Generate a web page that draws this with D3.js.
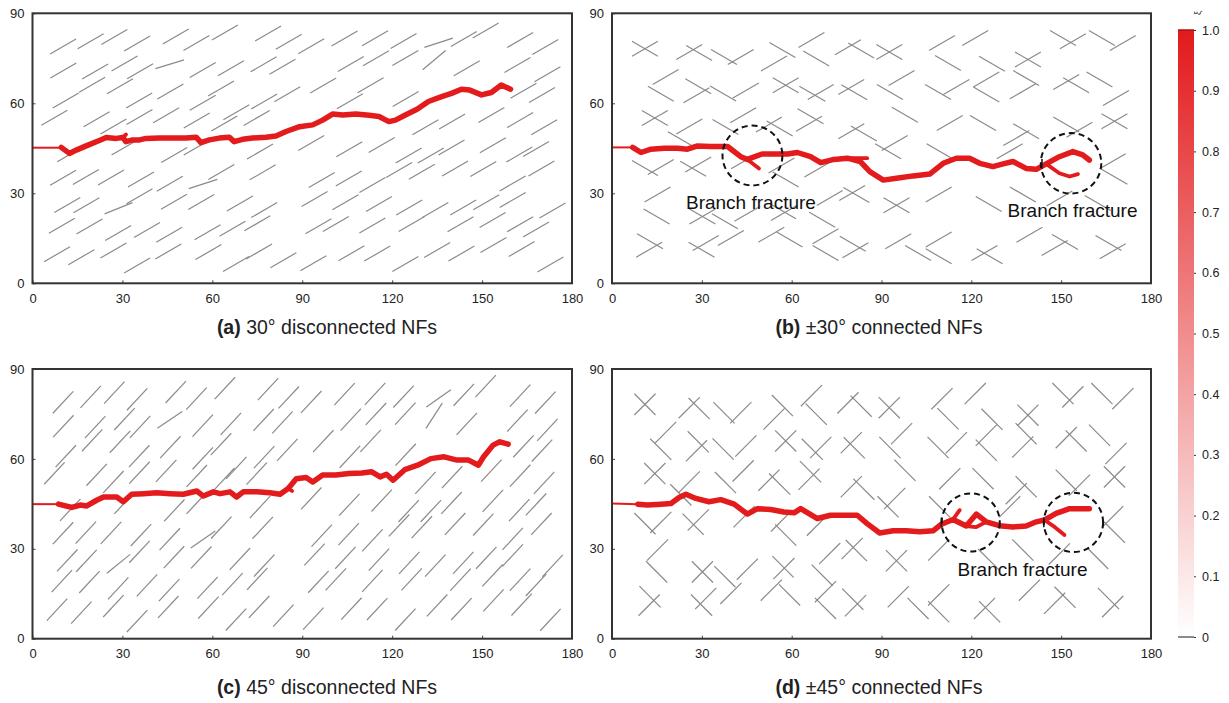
<!DOCTYPE html>
<html><head><meta charset="utf-8">
<script src="https://cdn.jsdelivr.net/npm/d3@7"></script>
<style>body{margin:0;background:#fff}svg{display:block}text{font-family:"Liberation Sans",Arial,sans-serif}</style>
</head><body><svg id="c" width="1229" height="703"></svg>
<script>
// ---------- data ----------
const xTicks=[0,30,60,90,120,150,180];
const yTicks=[0,30,60,90];
const cbTicks=[0,0.1,0.2,0.3,0.4,0.5,0.6,0.7,0.8,0.9,1.0];
const cbTickLabels=["0","0.1","0.2","0.3","0.4","0.5","0.6","0.7","0.8","0.9","1.0"];
const titlesBold=["(a)","(b)","(c)","(d)"];
const titlesRest=[" 30° disconnected NFs"," ±30° connected NFs"," 45° disconnected NFs"," ±45° connected NFs"];
const nfAngles=[30,30,47,45];
const nfLength=10;
// disconnected NF centres [x, y, angle offset]
const nfDisconnected=[
[10.2,78.9],[19.4,80.7],[27.3,82.1],[34.9,79.9],[47.8,82.3],[54.7,80.1],[64.2,83.6],[78.6,83.3],[85.5,80.5],
[10.3,70.9],[20.9,70.6],[30.7,73.3],[35.9,70.7],[45.8,73,-13],[56.8,71.1],[66.2,71.7],[77.1,73],[83.4,72.2],
[11.1,60.9],[19.9,66.2],[29.2,65.7],[35.6,60.9],[46,63.9],[56.8,60.2],[62.9,64.9],[68,57],[77.3,60.6],[85,63],
[7.3,55.2],[21.4,54.7],[27,52.3],[35.7,55.4],[44.6,56],[54.8,54.3],[64,53.3],[74.8,55.1],
[12.6,43],[30.7,45.3],[47.3,42.8],[54.8,45.3],[75.9,43.9],
[10.2,35.2],[17.8,35.4],[26.2,35.3],[36.2,34.6],[45.8,33.2],[56.9,33.1,-12],[63,37.1],[76.8,37],
[11.6,26.1],[18,26],[28.7,25,-8],[35.7,29],[47.2,27.2],[56.3,27.1],[69.2,26.6],[77.3,24.4],
[9.8,19.2],[19,18.9],[28.6,16.8],[38.2,17.8],[45.6,16.2],[58.4,17],[66.7,18.2],[75,20],
[8.2,9.7],[16.3,8.7],[27,10.9],[34.9,5.9],[45.3,10.6],[58.7,10.4],[67.9,6.4],[75.6,10.6],[83.7,7.7],
[93,79],[104.1,81.6],[114.3,81.7],[123.8,80.8],[135.5,80.2,-12],[143.9,81.4],[151.2,84.3],[162.7,81.1],[171.1,78.8],
[106.2,73.1],[114.6,75],[124.4,75.1],[134,74.4,10],[144.9,71.7],[161.8,72.8],[171.8,69.7],
[97,65.9],[112.8,66],[124.5,61.4],[163.8,64.2],[170,62.8],
[105.9,60.7],[153.1,56.1],[162.7,54.4],[170.7,52],[131.1,52],[140,53.9],
[93,46.8],[105.7,44.7],[116.5,46.1],[125.5,42.6],[132.9,42.6],[139.8,45.3],[153.6,46],[162.4,42.9],[168,44.8],
[96.5,34.4],[105.5,34.9],[113.4,32.8],[122.3,37.8],[129.9,37.2],[141,38.3],[150.4,38.1],[160.2,33.3],[169.8,38.3],
[94.1,28.1],[104.4,27],[115.6,26.4],[125.7,25.3],[134.4,24.4],[143.7,25.3],[151.4,27],[160.2,27.8],[173.5,24.3],
[95.4,19],[101.2,19.8],[113.4,19.3],[126.5,19.8],[142.8,19.7],[153.5,21.1],[162.7,19.7],[168,17.9],
[93.7,6.7],[106.4,10],[115,9.9],[124.4,6.4],[135,11.1],[143.1,9.9],[153.8,12.8],[163.2,11.4],[172.8,6.3]
];
// connected NF centres [x, y, orientation sign]
const nfConnected=[
[11,78.2,1],[11,78.2,-1],[25.8,77.1,1],[29.1,76.8,-1],[37.4,75.4,-1],[43,75.4,1],[56.9,77.8,-1],[54.1,73.3,1],
[66.6,81.1,1],[68.2,74.9,-1],[78.8,78.7,1],[83.2,77.6,-1],[17.9,68.8,1],[16.3,63.2,-1],[28.8,65.7,-1],[28.2,62.7,1],
[37.1,63.3,-1],[44.7,64.3,1],[58,66,1],[58,66,-1],[69.7,63.8,1],[66.9,63.2,-1],[80.9,63.7,-1],[79.9,65.4,1],
[14.3,55.1,1],[14.3,55.1,-1],[25.8,52.3,1],[37.9,52.1,-1],[43.8,56,1],[52.4,52.9,1],[56,51.6,-1],
[65.8,53.2,1],[66.3,55.7,-1],[84.1,49.9,-1],[79.9,50.7,1],[23,48,-1],
[11,38.4,-1],[16.3,38.8,1],[27.1,38.2,-1],[28.8,39.6,1],[44.1,40.7,1],[58,34.6,-1],[56.6,39.3,1],[68.6,37.9,1],
[15.2,29.6,1],[14.9,22.3,-1],[30.2,22.3,1],[30.2,22.3,-1],[37.7,20.7,-1],[45.2,23.2,1],[57.4,23.4,1],[57.1,24,-1],
[72.7,28.4,1],[70.2,21.2,-1],[80.2,30.1,1],[81.6,29.4,-1],
[12.4,11.2,1],[12.7,14,-1],[29.9,11.2,-1],[31.3,13.4,1],[39.7,15.1,1],[53.2,16.2,1],[59.3,14.6,-1],
[71.3,10.1,-1],[71.3,15.7,1],[80.4,13.2,-1],[81.3,11,1],
[92.6,77.1,1],[92.6,77.1,-1],[110.2,80.1,1],[112.2,73.4,-1],[121.3,81.8,1],[126.9,73.2,-1],[138.9,74.6,1],[138.9,74.6,-1],
[150.6,81.8,-1],[153.9,80.7,1],[163.6,81.8,-1],[170.6,80.1,1],[96.7,68.4,1],[92.8,63.8,-1],[108.9,63.8,-1],[115,65.4,1],
[125,67.9,1],[125,62.9,-1],[138.3,68.4,-1],[137.2,64,1],[151.7,67.1,1],[155,66,-1],[162.8,67.9,-1],[168.3,61.8,1],
[97.8,56.2,-1],[112.8,53.4,1],[123.9,53.4,-1],[138.3,50.7,-1],[135,48.4,1],[151.7,52.9,-1],[156.1,51.2,1],
[167.8,54,1],[167.8,54,-1],[92.2,44,-1],[94.4,46.8,1],[109.4,44,-1],[132.8,44,1],[167.2,40.7,1],
[95,26,1],[95,26,-1],[109.1,29.6,1],[137.2,29.6,-1],[162.2,26.8,-1],[125.8,26.4,-1],[149.4,28.3,1],[167.8,35.5,-1],
[95.6,14,1],[102.2,10.1,-1],[109.1,14.6,1],[109.1,9,-1],[124.4,10.1,1],[126.1,9,-1],[139.4,16.2,1],
[147.8,11.8,1],[151.3,13.8,-1],[165.8,13.4,-1],[167.2,10.7,1]
];
// pre-existing notch (thin) and propagated fracture paths (thick)
const notchA=[[0,45.2],[9.6,45.2]];
const notchB=[[0,45.3],[6.9,45.3]];
const notchC=[[0,44.9],[8.7,44.9]];
const notchD=[[0,45.1],[8.6,44.9]];
const crackA=[[[9.6,45.3],[12.3,43.3],[14.6,44.4],[17.9,45.8],[22.3,47.6],[24.6,48.6],[27.9,48.3],[30.1,48.6],[31.2,47.2],[33.4,47.8],[35.7,47.8],[37.9,48.3],[42.3,48.4],[46.8,48.4],[51.2,48.4],[54.6,48.7],[56.2,46.9],[59,47.8],[62.3,48.4],[65.7,48.7],[67.3,47.2],[70.1,48],[73.4,48.4],[77.9,48.7],[81.2,49.1],[84.6,50.6],[89.1,52.2],[93.5,52.8],[96.8,54.4],[100.1,56.4],[103.5,56.1],[107.9,56.4],[112.3,56],[115.6,55.6],[118.9,53.9],[121.1,54.4],[124.4,56.1],[128.3,58],[132.1,60.6],[136.5,62.2],[139.8,63.3],[143.1,64.7],[145.9,64.4],[149.8,62.8],[153.1,63.6],[156.4,66.1],[159.5,64.7]],
 [[30.1,48.6],[31.2,49.6]]];
const crackB=[[[6.9,45.3],[9.7,43.6],[13,44.7],[17.4,45],[21.9,45],[25.2,44.7],[28.6,45.8],[32.9,45.6],[38.6,45.6],[43,42.2],[45.2,41.3],[50.1,43.1],[54.1,43.1],[58.6,43.1],[61.9,43.6],[66.3,42.2],[69.7,40.2],[74.1,41.3],[78.6,41.7],[82.9,40.6],[86.1,37.2],[90.6,34.4],[95,35],[100.6,35.8],[106.1,36.4],[110.6,40],[115,41.7],[119.4,41.7],[122.8,40],[127.2,38.9],[130.6,39.8],[133.9,40.6],[138.3,38.3],[141.7,38],[145,39.8],[149.4,42.2],[153.9,43.9],[157.2,42.8],[159.4,41.1]],
 [[45.2,41.3],[49.1,38.3]],[[78.6,41.7],[85.2,41.7]],[[145,39.8],[149.4,36.7],[152.8,35.6],[155.6,36.4]]];
const crackC=[[[8.7,44.9],[13.1,43.8],[15.9,44.6],[18.1,44.3],[21.4,46.2],[23.7,47.3],[28.1,47.3],[30.3,45.7],[33.1,48.2],[37,48.4],[41.4,48.7],[45.9,48.4],[50.3,48.2],[54.8,49.3],[57,47.6],[60.3,49],[62.6,48.4],[65.9,49],[68.1,47.3],[70.3,49],[74.8,49],[79.2,48.7],[82.6,48.2],[85.3,50.1],[88,53.4],[91.3,53.8],[93.5,52.3],[96.8,54.6],[101.2,54.6],[105.6,55.1],[109.9,55.3],[113.2,55.7],[116,54],[118.1,54.9],[120.3,52.9],[124.2,56.4],[128.5,57.9],[132.9,60.1],[137.3,60.7],[141.7,59.6],[145.5,59.6],[148.8,57.9],[150.5,60.7],[153.7,64.6],[155.9,65.7],[158.7,64.9]],
 [[85.3,50.1],[86.6,49.3]]];
const crackD=[[[8.6,44.9],[11.9,44.6],[16.3,44.9],[19.7,45.1],[22.4,47.1],[24.7,48.2],[28,46.8],[32.4,45.7],[36.3,46.4],[40.8,44.9],[45.2,41.6],[48.6,43.4],[53,43.1],[57.4,42.3],[60.8,42],[63,43.4],[68.6,40.1],[73,41.2],[77.4,41.2],[81.9,41.2],[85.2,38.4],[89.4,35.3],[93.9,36],[98.3,36],[102.8,35.7],[107.2,36],[110,38.2],[113.9,39.8],[118.3,37.6],[121.7,41.6],[125,39],[129.4,37.7],[133.9,37.3],[138.3,37.6],[141.7,39],[144.4,39.6],[148.3,41.8],[152.8,43.4],[159.4,43.4]],
 [[113.9,39.8],[116.1,42.9]],[[118.3,37.6],[121.5,37.2],[125,39]],[[144.4,39.6],[147.8,37.3],[151.1,34.6]]];
// annotations [x, y, r] and labels [x, y, text]
const circlesB=[[46.9,42.6,10],[153.3,40,10.1]];
const circlesD=[[119.8,38.8,9.7],[154.1,38.8,9.9]];
const labelsB=[[46.4,24.8,"Branch fracture"],[153.8,22.1,"Branch fracture"]];
const labelsD=[[137.1,20.9,"Branch fracture"]];
const marksB=[[143.6,39.8]];
const marksD=[[110,38.8],[144.2,38.8]];

// ---------- drawing ----------
const svg=d3.select("#c");
const panels=[
 {x0:32.5,x1:572,yT:13.3,yB:283.3,nf:nfDisconnected,conn:false,notch:notchA,crack:crackA,circles:[],labels:[],marks:[],tx:327,ty:334},
 {x0:612,x1:1151,yT:13.3,yB:283.3,nf:nfConnected,conn:true,notch:notchB,crack:crackB,circles:circlesB,labels:labelsB,marks:marksB,tx:879,ty:334},
 {x0:32.5,x1:572,yT:369,yB:638.7,nf:nfDisconnected,conn:false,notch:notchC,crack:crackC,circles:[],labels:[],marks:[],tx:327,ty:694},
 {x0:612,x1:1151,yT:369,yB:638.7,nf:nfConnected,conn:true,notch:notchD,crack:crackD,circles:circlesD,labels:labelsD,marks:marksD,tx:879,ty:694}
];
const RED="#e31b1d";
panels.forEach((p,i)=>{
  const x=d3.scaleLinear().domain([0,180]).range([p.x0,p.x1]);
  const y=d3.scaleLinear().domain([0,90]).range([p.yB,p.yT]);
  const g=svg.append("g");
  const ang=nfAngles[i];
  const segs=p.nf.map(d=>{
    let a,sgn=1;
    if(p.conn){a=ang;sgn=d[2];}else{a=ang+(d[2]||0);}
    const r=a*Math.PI/180,h=nfLength/2,dx=h*Math.cos(r),dy=h*Math.sin(r)*sgn;
    return [[d[0]-dx,d[1]-dy],[d[0]+dx,d[1]+dy]];
  });
  g.selectAll("line.nf").data(segs).join("line").attr("class","nf")
   .attr("x1",d=>x(d[0][0])).attr("y1",d=>y(d[0][1])).attr("x2",d=>x(d[1][0])).attr("y2",d=>y(d[1][1]))
   .attr("stroke","#8a8a8a").attr("stroke-width",1.2);
  const line=d3.line().x(d=>x(d[0])).y(d=>y(d[1]));
  g.append("path").attr("d",line(p.notch)).attr("fill","none").attr("stroke",RED).attr("stroke-width",2);
  p.crack.forEach((c,k)=>{
    g.append("path").attr("d",line(c)).attr("fill","none").attr("stroke",RED)
     .attr("stroke-width",k===0?5.5:3.8).attr("stroke-linejoin","round").attr("stroke-linecap","round");
  });
  g.selectAll("line.mk").data(p.marks).join("line").attr("class","mk")
   .attr("x1",d=>x(d[0])).attr("x2",d=>x(d[0])).attr("y1",d=>y(d[1]+1.6)).attr("y2",d=>y(d[1]-1.6))
   .attr("stroke","#222").attr("stroke-width",1.6);
  g.selectAll("circle").data(p.circles).join("circle")
   .attr("cx",d=>x(d[0])).attr("cy",d=>y(d[1])).attr("r",d=>x(d[2])-x(0))
   .attr("fill","none").attr("stroke","#111").attr("stroke-width",2).attr("stroke-dasharray","6,4");
  g.selectAll("text.lb").data(p.labels).join("text").attr("class","lb")
   .attr("x",d=>x(d[0])).attr("y",d=>y(d[1])).attr("text-anchor","middle")
   .attr("font-size",19).attr("fill","#111").text(d=>d[2]);
  // axes
  const ax=g.append("g").attr("transform",`translate(0,${p.yB})`)
   .call(d3.axisBottom(x).tickValues(xTicks).tickSize(-3).tickPadding(10).tickFormat(d3.format("d")));
  const ay=g.append("g").attr("transform",`translate(${p.x0},0)`)
   .call(d3.axisLeft(y).tickValues(yTicks).tickSize(-3).tickPadding(8).tickFormat(d3.format("d")));
  [ax,ay].forEach(a=>{a.select(".domain").remove();a.selectAll("line").attr("stroke","#444");
    a.selectAll("text").attr("font-size",13).attr("fill","#222").attr("font-family","Liberation Sans, Arial, sans-serif");});
  g.append("rect").attr("x",p.x0).attr("y",p.yT).attr("width",p.x1-p.x0).attr("height",p.yB-p.yT)
   .attr("fill","none").attr("stroke","#333").attr("stroke-width",2);
  const t=g.append("text").attr("x",p.tx).attr("y",p.ty).attr("text-anchor","middle").attr("font-size",19.5).attr("fill","#222");
  t.append("tspan").attr("font-weight","bold").text(titlesBold[i]);
  t.append("tspan").text(titlesRest[i]);
});
// colorbar
const cb=d3.scaleLinear().domain([0,1]).range([637,30]);
const defs=svg.append("defs");
const grad=defs.append("linearGradient").attr("id","gr").attr("x1",0).attr("y1",1).attr("x2",0).attr("y2",0);
grad.append("stop").attr("offset","0%").attr("stop-color","#ffffff");
grad.append("stop").attr("offset","100%").attr("stop-color","#e21a1c");
svg.append("rect").attr("x",1178).attr("y",cb(1)).attr("width",16).attr("height",cb(0)-cb(1)).attr("fill","url(#gr)");
svg.append("line").attr("x1",1178).attr("x2",1194).attr("y1",cb(1)).attr("y2",cb(1)).attr("stroke","#b01010").attr("stroke-width",1.5);
svg.append("line").attr("x1",1178).attr("x2",1194).attr("y1",cb(0)).attr("y2",cb(0)).attr("stroke","#666").attr("stroke-width",1.5);
const cbg=svg.append("g").attr("transform","translate(1194,0)")
 .call(d3.axisRight(cb).tickValues(cbTicks).tickSize(2).tickPadding(6).tickFormat((d,i)=>cbTickLabels[i]));
cbg.select(".domain").remove();
cbg.selectAll("line").attr("stroke","#333");
cbg.selectAll("text").attr("font-size",12.5).attr("fill","#222").attr("font-family","Liberation Sans, Arial, sans-serif");
svg.append("text").attr("transform","translate(1201,13) rotate(-90)").attr("font-size",9).attr("fill","#333").attr("text-anchor","middle").text("ξ");
</script></body></html>
